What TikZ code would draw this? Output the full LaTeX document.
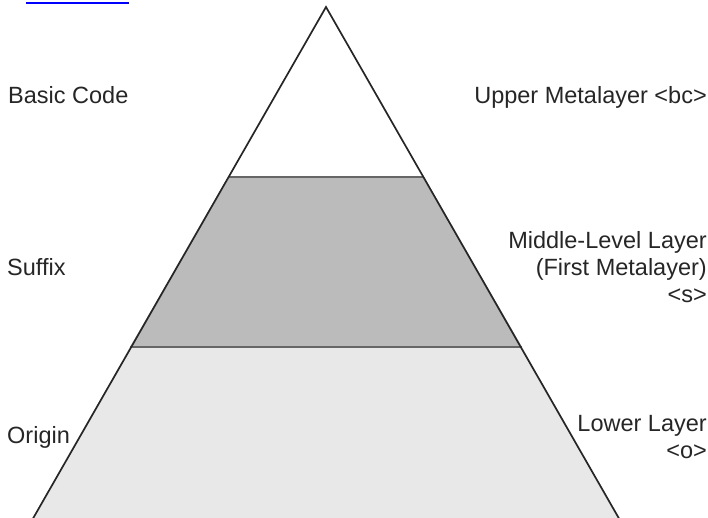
\documentclass[tikz,border=0pt]{standalone}
\usepackage{fontspec}
\setmainfont{Liberation Sans}
\begin{document}
\begin{tikzpicture}[x=1pt,y=1pt,
  lbl/.style={inner sep=0pt, font=\fontsize{23.5}{27}\selectfont, text=black!85},
  edge/.style={line width=1.7pt, black!85},
  band/.style={line width=1.6pt, black!60}]
\useasboundingbox (0,0) rectangle (708,-517);
\clip (0,0) rectangle (708,-517);
% points
\coordinate (A) at (326,-7);
\coordinate (L) at (31,-522);
\coordinate (R) at (621,-522);
\coordinate (ML) at (228,-177);
\coordinate (MR) at (424,-177);
\coordinate (BL) at (130,-347);
\coordinate (BR) at (522,-347);
% fills
\fill[fill={rgb,255:red,232;green,232;blue,232}] (BL) -- (BR) -- (R) -- (L) -- cycle;
\fill[fill={rgb,255:red,187;green,187;blue,187}] (ML) -- (MR) -- (BR) -- (BL) -- cycle;
\draw[band] (ML) -- (MR);
\draw[band] (BL) -- (BR);
\draw[edge, line join=miter] (L) -- (A) -- (R);
% link underline fragment
\coordinate (u1) at (26,-3);
\coordinate (u2) at (129,-3);
\draw[blue, line width=2pt] (u1) -- (u2);
% labels
\node[lbl, anchor=base west] (bc) at (8,-103) {Basic Code};
\node[lbl, anchor=base east] (ub) at (707,-103) {Upper Metalayer <bc>};
\node[lbl, anchor=base west] (sf) at (7,-275) {Suffix};
\node[lbl, anchor=base east, align=right] (ml) at (707,-302) {Middle-Level Layer\\(First Metalayer)\\<s>};
\node[lbl, anchor=base west] (og) at (7,-443) {Origin};
\node[lbl, anchor=base east, align=right] (ll) at (707,-458) {Lower Layer\\<o>};
\end{tikzpicture}
\end{document}
